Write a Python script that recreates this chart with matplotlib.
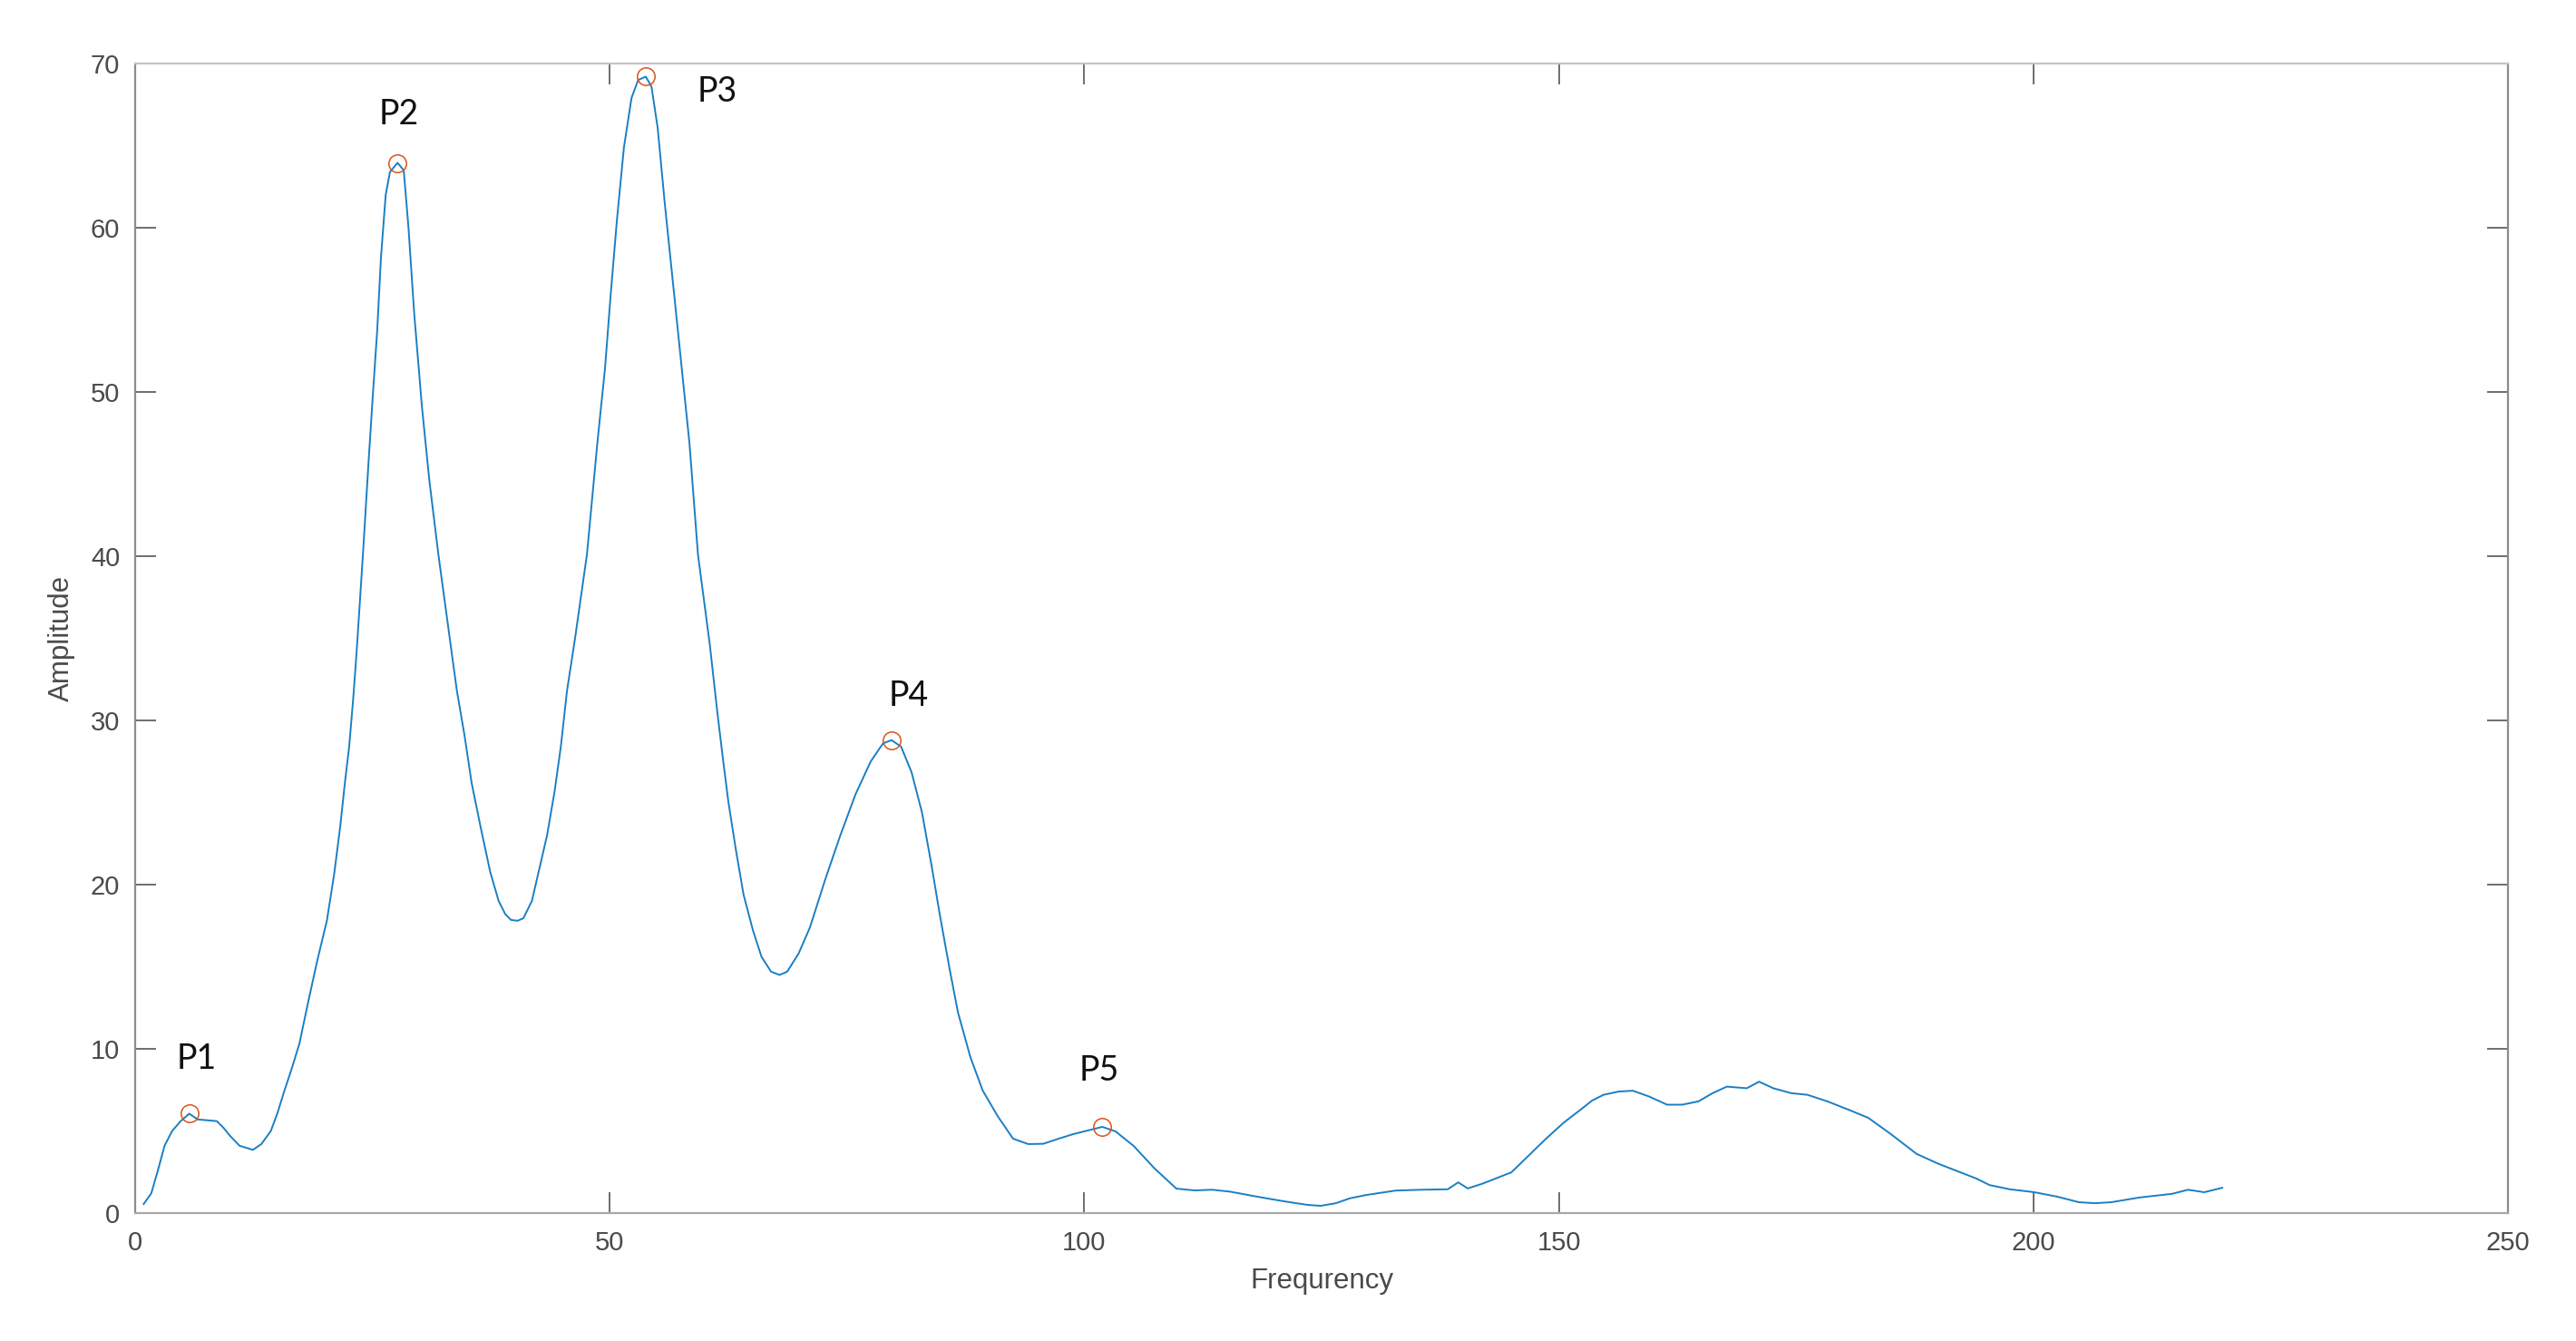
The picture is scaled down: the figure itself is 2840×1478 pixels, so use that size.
import matplotlib
matplotlib.use("Agg")
import matplotlib.pyplot as plt

# ---- data ----
frequency = [0.9, 1.7, 2.4, 3.1, 3.9, 4.8, 5.7, 6.6, 7.6, 8.6, 9.3, 10.0, 11.0, 12.4, 13.3,
             14.3, 15.0, 15.7, 16.5, 17.3, 18.25, 19.2, 20.2, 20.96, 21.6, 22.1, 22.55, 23.0,
             23.35, 24.0, 24.6, 25.1, 25.5, 25.9, 26.4, 26.85, 27.65, 28.3, 28.8, 29.4, 30.2,
             31.0, 31.95, 33.2, 33.9, 34.7, 35.45, 36.4, 37.4, 38.3, 39.0, 39.6, 40.3, 40.9,
             41.8, 42.6, 43.4, 44.2, 44.85, 45.5, 46.35, 47.6, 48.7, 49.5, 50.1, 50.75, 51.5,
             52.3, 53.0, 53.8, 54.4, 55.05, 55.8, 56.8, 57.6, 58.4, 59.3, 60.55, 61.3, 61.9,
             62.5, 63.3, 64.1, 65.1, 66.0, 67.0, 67.9, 68.7, 69.9, 71.1, 72.7, 74.3, 75.9,
             77.5, 78.8, 79.7, 80.7, 81.8, 82.9, 83.9, 84.8, 85.8, 86.7, 88.0, 89.3, 90.9,
             92.5, 94.1, 95.7, 97.3, 98.8, 100.4, 101.9, 103.3, 105.2, 107.4, 109.7, 111.6,
             113.5, 115.4, 118.2, 121.0, 123.5, 124.9, 126.5, 128.0, 129.7, 132.8, 135.5,
             138.3, 139.4, 140.4, 142.0, 145.0, 147.0, 148.6, 150.5, 152.3, 153.5, 154.7,
             156.3, 157.8, 159.5, 161.4, 163.0, 164.7, 166.2, 167.7, 169.8, 171.1, 172.6,
             174.5, 176.2, 178.3, 180.5, 182.6, 185.0, 187.7, 190.0, 192.0, 194.0, 195.4,
             197.5, 200.1, 202.5, 204.8, 206.5, 208.2, 211.2, 214.6, 216.3, 218.0, 219.9]
amplitude = [0.55, 1.2, 2.6, 4.1, 5.0, 5.6, 6.05, 5.7, 5.65, 5.6, 5.2, 4.7, 4.1, 3.85, 4.2,
             5.0, 6.1, 7.4, 8.8, 10.3, 12.9, 15.4, 17.8, 20.6, 23.5, 26.2, 28.4, 31.5,
             34.3, 40.1, 45.8, 50.3, 53.7, 58.2, 62.0, 63.4, 63.95, 63.5, 60.0, 54.8, 49.2,
             44.6, 40.1, 34.8, 31.8, 29.1, 26.2, 23.5, 20.8, 19.0, 18.2, 17.85, 17.8, 17.95,
             19.0, 21.0, 23.0, 25.7, 28.4, 31.8, 35.0, 40.1, 46.9, 51.4, 55.9, 60.4, 64.9,
             67.9, 69.0, 69.2, 68.6, 66.1, 61.5, 55.9, 51.4, 46.9, 40.1, 34.6, 30.7, 27.8,
             25.05, 22.1, 19.4, 17.2, 15.6, 14.7, 14.5, 14.7, 15.8, 17.4, 20.3, 23.0, 25.5,
             27.5, 28.6, 28.8, 28.4, 26.85, 24.4, 21.2, 18.1, 14.9, 12.2, 9.5, 7.46, 5.88,
             4.53, 4.2, 4.22, 4.53, 4.8, 5.03, 5.25, 4.97, 4.09, 2.72, 1.49, 1.38,
             1.42, 1.3, 1.0, 0.72, 0.5, 0.44, 0.6, 0.9, 1.1, 1.37, 1.42,
             1.45, 1.87, 1.5, 1.8, 2.48, 3.6, 4.5, 5.5, 6.3, 6.85, 7.2,
             7.4, 7.45, 7.1, 6.6, 6.6, 6.8, 7.3, 7.7, 7.6, 8.0, 7.6,
             7.3, 7.2, 6.8, 6.3, 5.8, 4.8, 3.6, 3.0, 2.55, 2.1, 1.7,
             1.45, 1.27, 1.0, 0.66, 0.6, 0.66, 0.95, 1.17, 1.42, 1.27, 1.54]

peak_labels = ["P1", "P2", "P3", "P4", "P5"]
peak_freq = [5.7, 27.65, 53.8, 79.7, 101.9]
peak_amp = [6.05, 63.95, 69.2, 28.8, 5.25]

x_ticks = [0, 50, 100, 150, 200, 250]
y_ticks = [0, 10, 20, 30, 40, 50, 60, 70]
x_label = "Frequrency"
y_label = "Amplitude"

# label offsets (points) relative to each peak marker
label_offsets = [(6, 43.6), (1.1, 38.4), (56.5, -11.7), (13.5, 35.2), (-2.3, 44.9)]

# ---- figure ----
plt.rcParams["font.family"] = ["Liberation Sans", "DejaVu Sans"]
fig = plt.figure(figsize=(28.4, 14.78), dpi=100)
ax = fig.add_axes([0.05246, 0.0954, 0.97359 - 0.05246, 0.95264 - 0.0954])

ax.plot(frequency, amplitude, color="#1a7fc4", lw=1.4, zorder=2)
ax.plot(peak_freq, peak_amp, linestyle="none", marker="o", ms=14, mfc="none",
        mec="#D95319", mew=1.1, zorder=3)

for lab, fx, fy, off in zip(peak_labels, peak_freq, peak_amp, label_offsets):
    ax.annotate(lab, xy=(fx, fy), xytext=off, textcoords="offset points",
                ha="center", va="center", fontsize=27, color="#111111",
                family=["Lato", "DejaVu Sans"])

ax.set_xlim(0, 250)
ax.set_ylim(0, 70)
ax.set_xticks(x_ticks)
ax.set_yticks(y_ticks)

ax.tick_params(axis="both", which="major", direction="in", length=16.5, width=1.2,
               colors="#555555", labelsize=21, labelcolor="#4a4a4a",
               top=True, right=True)
ax.tick_params(axis="x", pad=14)
ax.tick_params(axis="y", pad=12)

ax.spines["left"].set_color("#8c8c8c")
ax.spines["right"].set_color("#8c8c8c")
ax.spines["top"].set_color("#c4c4c4")
ax.spines["bottom"].set_color("#a8a8a8")
for s in ax.spines.values():
    s.set_linewidth(1.6)

ax.set_xlabel(x_label, fontsize=22.5, color="#4a4a4a", labelpad=9)
ax.set_ylabel(y_label, fontsize=22.5, color="#4a4a4a", labelpad=12)

fig.savefig("out.png", dpi=100, facecolor="white")
